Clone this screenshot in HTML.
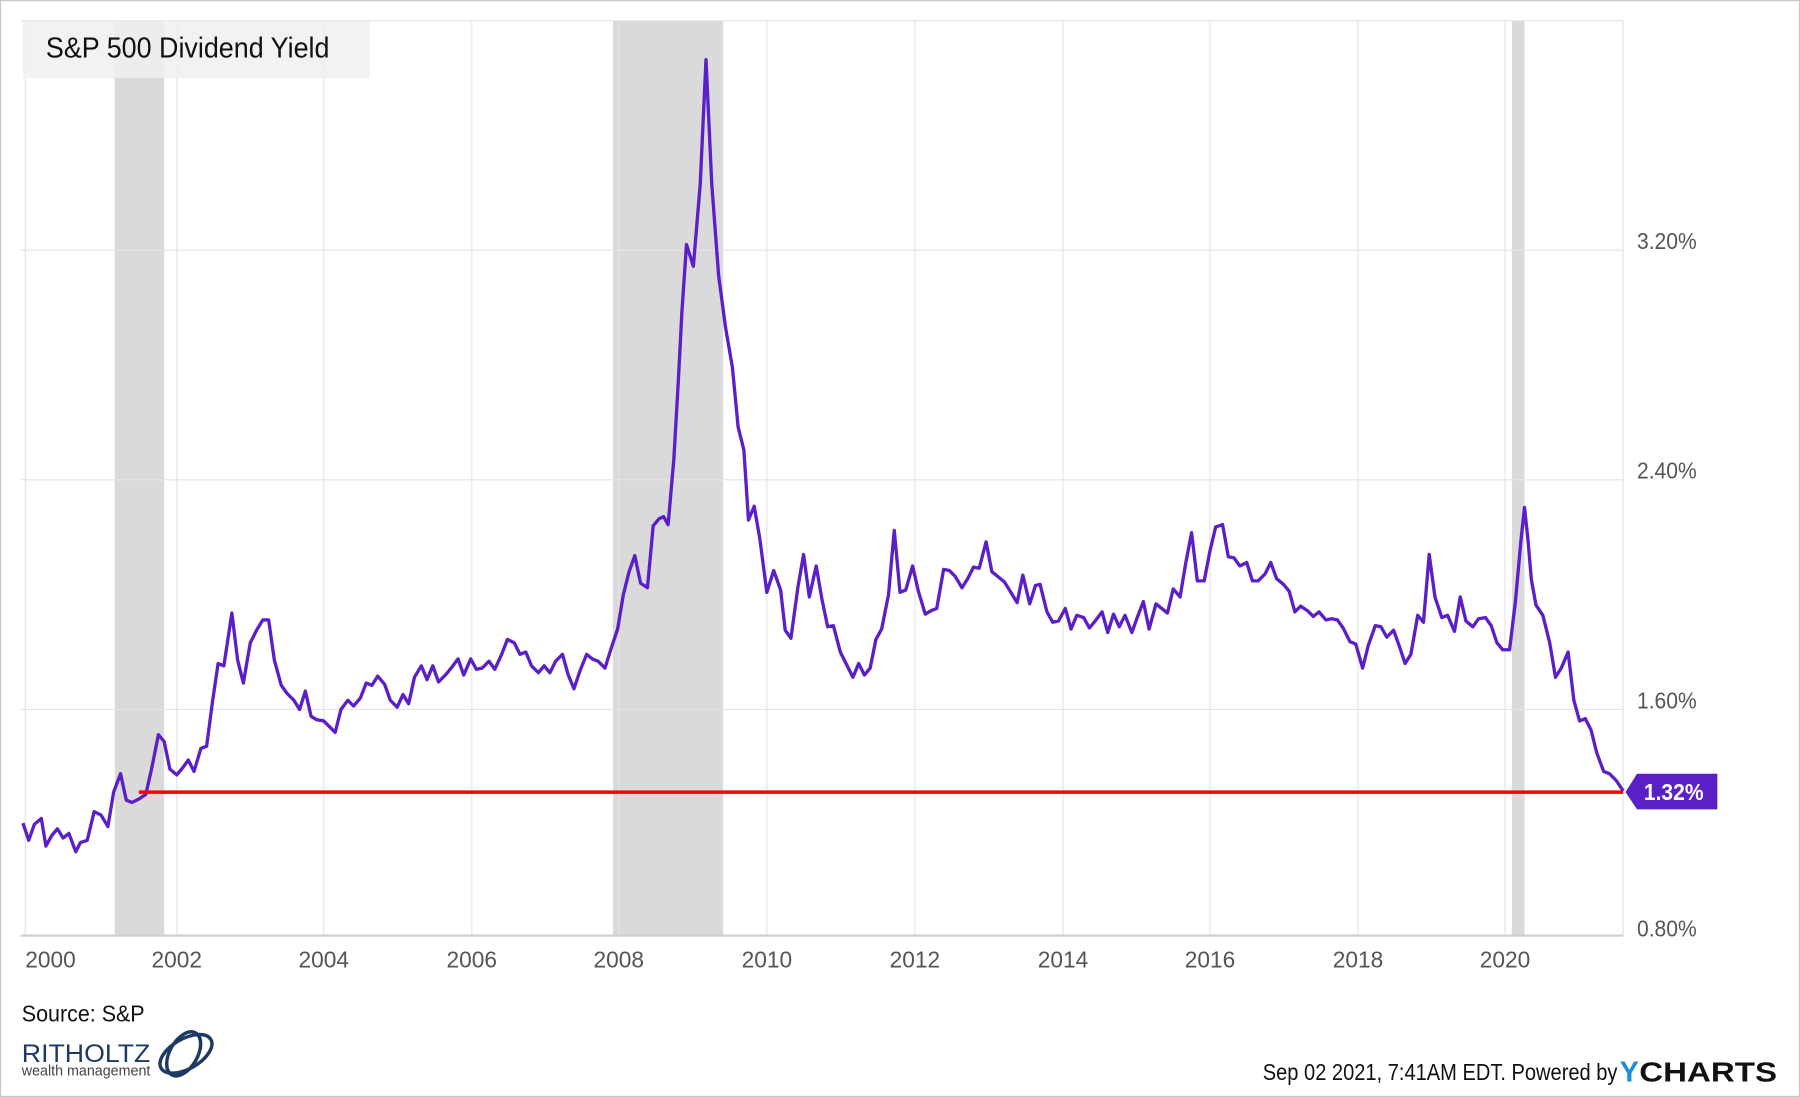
<!DOCTYPE html>
<html><head><meta charset="utf-8"><style>
html,body{margin:0;padding:0;background:#fff;}
svg{display:block;}
text{font-family:"Liberation Sans",sans-serif;}
</style></head><body>
<svg width="1800" height="1097" viewBox="0 0 1568 955.6" xmlns="http://www.w3.org/2000/svg">
<rect x="0.5" y="0.5" width="1567" height="954.6" fill="#fff" stroke="#c8c8c8" stroke-width="1"/>
<rect x="100" y="18" width="43" height="797" fill="#dadada"/>
<rect x="534" y="18" width="96" height="797" fill="#dadada"/>
<rect x="1317" y="18" width="11" height="797" fill="#dadada"/>
<g stroke="#e4e4e4" stroke-width="1">
<line x1="18" y1="18" x2="1414" y2="18"/>
<line x1="18" y1="218" x2="1414" y2="218"/>
<line x1="18" y1="418" x2="1414" y2="418"/>
<line x1="18" y1="618" x2="1414" y2="618"/>
<line x1="22" y1="18" x2="22" y2="815"/>
<line x1="154" y1="18" x2="154" y2="815"/>
<line x1="282" y1="18" x2="282" y2="815"/>
<line x1="411" y1="18" x2="411" y2="815"/>
<line x1="539" y1="18" x2="539" y2="815"/>
<line x1="668" y1="18" x2="668" y2="815"/>
<line x1="797" y1="18" x2="797" y2="815"/>
<line x1="926" y1="18" x2="926" y2="815"/>
<line x1="1054" y1="18" x2="1054" y2="815"/>
<line x1="1183" y1="18" x2="1183" y2="815"/>
<line x1="1311" y1="18" x2="1311" y2="815"/>
<line x1="1414" y1="18" x2="1414" y2="815"/>
</g>
<line x1="18" y1="815" x2="1414" y2="815" stroke="#d0d0d0" stroke-width="2"/>
<rect x="20" y="18" width="302" height="50" fill="#f0f0f0" fill-opacity="0.85"/>
<text x="40" y="50" font-size="25" fill="#111" textLength="247" lengthAdjust="spacingAndGlyphs">S&amp;P 500 Dividend Yield</text>
<polyline fill="none" stroke="#5b1fc8" stroke-width="2.9" stroke-linejoin="round" points="20,717 25,732 30,718 36,713 40,737 45,728 50,722 55,730 60,726 66,742 70,734 76,732 82,707 88,710 94,720 99,690 105,674 110,697 115,699 121,696 127,692 132,670 138,640 143,646 148,670 154,675 159,669 164,662 169,672 175,652 180,650 185,612 190,578 195,580 202,534 207,575 212,595 218,560 224,548 229,540 234,540 239,575 245,597 250,604 256,610 261,618 266,602 271,624 276,627 282,628 287,633 292,638 297,618 303,610 308,615 314,608 319,595 324,597 329,589 335,596 340,610 346,616 351,605 356,613 361,590 367,580 372,592 377,580 382,594 388,588 393,582 399,574 404,588 410,574 415,583 420,582 426,576 431,583 437,570 442,557 448,560 453,570 458,568 463,580 469,586 474,580 479,586 484,576 490,570 495,588 500,600 505,585 511,570 516,574 521,576 527,582 532,566 538,548 543,518 548,498 553,484 558,508 564,512 569,458 574,452 578,450 582,457 587,400 591,330 594,272 598,213 604,232 610,160 615,52 620,160 626,240 632,285 638,320 643,372 648,392 652,453 657,441 662,470 668,516 674,497 680,514 684,549 689,556 695,512 700,483 705,520 711,493 716,522 721,546 726,545 732,568 737,578 743,590 748,578 753,588 758,582 763,557 768,548 774,518 779,462 784,516 789,514 795,493 800,515 806,535 811,532 816,530 822,496 827,497 832,502 838,512 843,504 848,494 853,495 859,472 864,498 869,502 875,507 880,515 886,525 891,501 897,526 902,510 906,509 912,533 917,542 922,541 928,530 933,548 938,536 944,538 949,547 954,541 960,533 965,551 970,535 975,546 980,536 986,551 991,537 996,524 1001,548 1007,526 1012,530 1017,534 1022,513 1028,520 1033,490 1038,464 1043,506 1049,506 1054,480 1059,459 1065,457 1070,485 1075,486 1080,493 1086,490 1091,506 1096,506 1102,500 1107,490 1112,504 1118,509 1123,515 1128,533 1133,528 1139,532 1144,537 1149,533 1155,540 1160,539 1165,540 1170,547 1176,559 1181,561 1187,582 1192,562 1198,545 1203,546 1208,555 1214,549 1219,563 1224,578 1229,570 1235,536 1240,542 1245,483 1250,520 1256,538 1261,536 1267,550 1272,520 1277,541 1283,546 1288,539 1294,538 1299,545 1304,560 1309,566 1315,566 1320,525 1325,470 1328,442 1331,470 1334,505 1338,527 1344,536 1350,560 1355,590 1360,582 1366,568 1371,610 1376,628 1381,626 1386,636 1391,656 1397,672 1402,674 1408,680 1414,689"/>
<line x1="121" y1="690" x2="1414" y2="690" stroke="#ff0000" stroke-width="3"/>
<polygon points="1416,690 1426,674 1496,674 1496,705 1426,705" fill="#5b1fc8"/>
<text x="1432" y="697" font-size="20" font-weight="bold" fill="#fff" textLength="52" lengthAdjust="spacingAndGlyphs">1.32%</text>
<g font-size="20" fill="#555">
<text x="1426" y="217" textLength="52" lengthAdjust="spacingAndGlyphs">3.20%</text>
<text x="1426" y="417" textLength="52" lengthAdjust="spacingAndGlyphs">2.40%</text>
<text x="1426" y="617" textLength="52" lengthAdjust="spacingAndGlyphs">1.60%</text>
<text x="1426" y="816" textLength="52" lengthAdjust="spacingAndGlyphs">0.80%</text>
</g>
<g font-size="20" fill="#555">
<text x="22" y="843" textLength="44" lengthAdjust="spacingAndGlyphs">2000</text>
<text x="132" y="843" textLength="44" lengthAdjust="spacingAndGlyphs">2002</text>
<text x="260" y="843" textLength="44" lengthAdjust="spacingAndGlyphs">2004</text>
<text x="389" y="843" textLength="44" lengthAdjust="spacingAndGlyphs">2006</text>
<text x="517" y="843" textLength="44" lengthAdjust="spacingAndGlyphs">2008</text>
<text x="646" y="843" textLength="44" lengthAdjust="spacingAndGlyphs">2010</text>
<text x="775" y="843" textLength="44" lengthAdjust="spacingAndGlyphs">2012</text>
<text x="904" y="843" textLength="44" lengthAdjust="spacingAndGlyphs">2014</text>
<text x="1032" y="843" textLength="44" lengthAdjust="spacingAndGlyphs">2016</text>
<text x="1161" y="843" textLength="44" lengthAdjust="spacingAndGlyphs">2018</text>
<text x="1289" y="843" textLength="44" lengthAdjust="spacingAndGlyphs">2020</text>
</g>
<text x="19" y="890" font-size="20" fill="#111" textLength="107" lengthAdjust="spacingAndGlyphs">Source: S&amp;P</text>
<text x="19" y="925" font-size="22" fill="#1e3a63" font-family="Liberation Serif,serif" textLength="112" lengthAdjust="spacingAndGlyphs">RITHOLTZ</text>
<text x="19" y="937" font-size="13" fill="#444" textLength="112" lengthAdjust="spacingAndGlyphs">wealth management</text>
<g fill="none" stroke="#1e3a63" stroke-width="3">
<ellipse cx="162" cy="918" rx="25" ry="13" transform="rotate(-30 162 918)"/>
<ellipse cx="160" cy="918" rx="12" ry="21" transform="rotate(30 160 918)"/>
</g>
<text x="1100" y="941" font-size="20" fill="#111" textLength="309" lengthAdjust="spacingAndGlyphs">Sep 02 2021, 7:41AM EDT. Powered by</text>
<text x="1411" y="942" font-size="25" font-weight="bold" fill="#1a8fe0">Y</text>
<text x="1428" y="942" font-size="24" font-weight="bold" fill="#111" textLength="120" lengthAdjust="spacingAndGlyphs">CHARTS</text>
</svg>
</body></html>
